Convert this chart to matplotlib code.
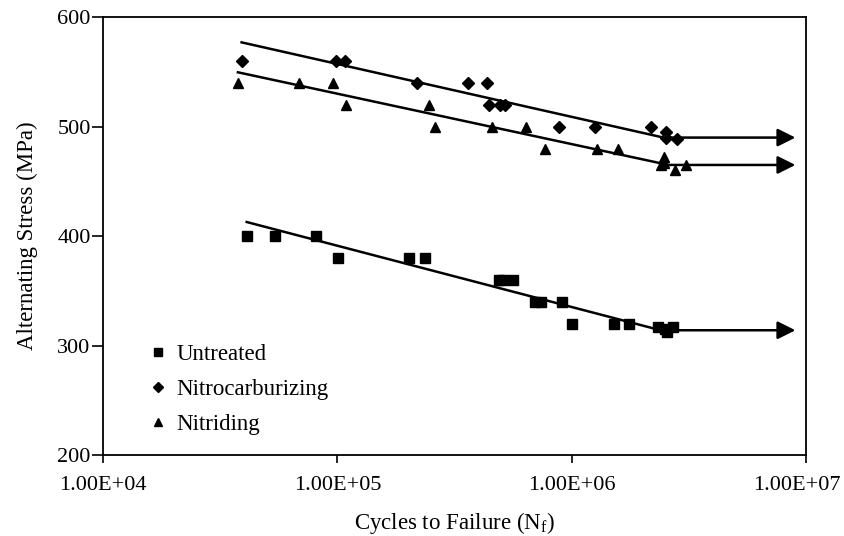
import numpy as np
import matplotlib.pyplot as plt
from matplotlib.transforms import ScaledTranslation

plt.rcParams['font.family'] = ['Liberation Serif', 'DejaVu Serif']

# cycles to failure and alternating stress (MPa)
untreated_n = [4.1e4, 5.4e4, 8.1e4, 1.01e5, 2.02e5, 2.36e5, 4.87e5, 5.1e5, 5.64e5,
               7.0e5, 7.4e5, 9.1e5, 1.0e6, 1.51e6, 1.76e6, 2.34e6, 2.5e6, 2.55e6, 2.7e6]
untreated_s = [400, 400, 400, 380, 380, 380, 360, 360, 360,
               340, 340, 340, 320, 320, 320, 317, 315, 312, 317]

nitrocarb_n = [3.9e4, 9.9e4, 1.08e5, 2.18e5, 3.6e5, 4.36e5, 4.45e5, 4.96e5, 5.2e5,
               8.8e5, 1.26e6, 2.18e6, 2.53e6, 2.53e6, 2.82e6]
nitrocarb_s = [560, 560, 560, 540, 540, 540, 520, 520, 520,
               500, 500, 500, 495, 490, 489]

nitriding_n = [3.76e4, 6.87e4, 9.6e4, 1.09e5, 2.45e5, 2.6e5, 4.58e5, 6.35e5, 7.7e5,
               1.28e6, 1.57e6, 2.48e6, 2.48e6, 2.41e6, 2.77e6, 3.06e6]
nitriding_s = [540, 540, 540, 520, 520, 500, 500, 500, 480,
               480, 480, 472, 467, 465, 460, 465]

labels = ['Untreated', 'Nitrocarburizing', 'Nitriding']
markers = ['s', 'D', '^']
endurance = [314, 490, 465]   # run-out level shown by the arrows
runout_n = 9.0e6

fig, ax = plt.subplots(figsize=(8.45, 5.36), dpi=100)
fig.subplots_adjust(left=0.122, right=0.954, top=0.968, bottom=0.151)

series = [(untreated_n, untreated_s), (nitrocarb_n, nitrocarb_s), (nitriding_n, nitriding_s)]
sizes = [6.5, 6, 7]
for (n, s), lab, m, lim, ms in zip(series, labels, markers, endurance, sizes):
    n = np.array(n)
    s = np.array(s)
    ax.plot(n, s, m, color='black', markersize=ms, label=lab, linestyle='none')
    # fatigue fit: log N as function of stress
    b, a = np.polyfit(s, np.log10(n), 1)
    n_knee = 10 ** (a + b * lim)
    s_top = (np.log10(n.min()) - a) / b
    s_fit = np.linspace(s_top, lim, 50)
    ax.plot(10 ** (a + b * s_fit), s_fit, color='black', lw=1.8)
    ax.annotate('', xy=(runout_n, lim), xytext=(n_knee, lim),
                arrowprops=dict(arrowstyle='-|>', color='black', lw=1.8,
                                mutation_scale=27, shrinkA=0, shrinkB=0))

ax.set_xscale('log')
ax.set_xlim(1e4, 1e7)
ax.set_ylim(200, 600)
ax.set_xticks([1e4, 1e5, 1e6, 1e7])
ax.set_xticklabels(['1.00E+04', '1.00E+05', '1.00E+06', '1.00E+07'])
ax.minorticks_off()
ax.set_yticks([200, 300, 400, 500, 600])
ax.tick_params(axis='both', labelsize=16, width=1.2, colors='black')
ax.tick_params(axis='y', direction='out', length=8, pad=1)
ax.tick_params(axis='x', direction='out', length=6, pad=9)
for sp in ax.spines.values():
    sp.set_linewidth(1.3)

# last label sits a little left so it stays inside the figure
last = ax.get_xticklabels()[-1]
last.set_transform(last.get_transform() + ScaledTranslation(-9 / 100, 0, fig.dpi_scale_trans))

ax.set_xlabel('Cycles to Failure (N$_\\mathregular{f}$)', fontsize=16.5, labelpad=11)
ax.set_ylabel('Alternating Stress (MPa)', fontsize=16.5, labelpad=14)

ax.legend(loc='center left', bbox_to_anchor=(0.033, 0.150), frameon=False, fontsize=16.5,
          handletextpad=0.3, labelspacing=0.6, handlelength=1.0, markerscale=0.8)

plt.savefig('out.png', dpi=100)
